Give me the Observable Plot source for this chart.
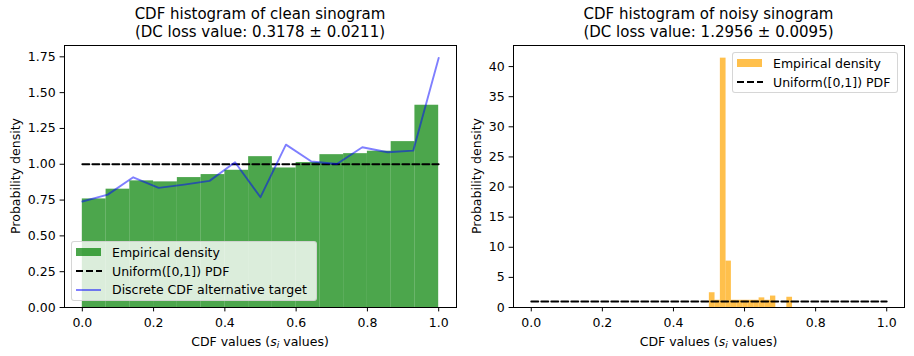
<!DOCTYPE html>
<html>
<head>
<meta charset="utf-8">
<script src="https://cdn.jsdelivr.net/npm/d3@7"></script>
<script src="https://cdn.jsdelivr.net/npm/@observablehq/plot@0.6"></script>
<style>
  html, body { margin: 0; padding: 0; background: #fff; }
  #fig { position: relative; width: 914px; height: 356px; font-family: "DejaVu Sans", sans-serif; color: #000; overflow: hidden; }
  .txt { position: absolute; white-space: nowrap; }
  .title { font-size: 15px; line-height: 18px; text-align: center; }
  .xlab { font-size: 12.5px; line-height: 15px; text-align: center; }
  .ylab { font-size: 12.5px; line-height: 15px; transform: translate(-50%, -50%) rotate(-90deg); }
  .legend { position: absolute; background: rgba(255,255,255,0.8); border: 1px solid rgba(204,204,204,0.8); border-radius: 3px; box-sizing: border-box; }
  .ltext { position: absolute; font-size: 12.5px; line-height: 15px; white-space: nowrap; }
  .h { position: absolute; }
</style>
</head>
<body>
<div id="fig"></div>
<script>
// ---- data ----
const xTicks = [0, 0.2, 0.4, 0.6, 0.8, 1.0];
const cleanYTicks = [0, 0.25, 0.5, 0.75, 1.0, 1.25, 1.5, 1.75];
const noisyYTicks = [0, 5, 10, 15, 20, 25, 30, 35, 40];

const cleanEdges = [0, 0.0667, 0.1333, 0.2, 0.2667, 0.3333, 0.4, 0.4667, 0.5333, 0.6, 0.6667, 0.7333, 0.8, 0.8667, 0.9333, 1.0];
const cleanDensity = [0.758, 0.826, 0.884, 0.877, 0.907, 0.928, 0.958, 1.053, 0.974, 1.012, 1.067, 1.074, 1.091, 1.158, 1.412];

const altX = [0, 0.0714, 0.1429, 0.2143, 0.2857, 0.3571, 0.4286, 0.5, 0.5714, 0.6429, 0.7143, 0.7857, 0.8571, 0.9286, 1.0];
const altY = [0.740, 0.788, 0.909, 0.835, 0.858, 0.884, 1.014, 0.770, 1.137, 1.019, 1.002, 1.119, 1.084, 1.095, 1.742];

const noisyEdges = [0.501, 0.517, 0.532, 0.548, 0.563, 0.579, 0.595, 0.610, 0.626, 0.641, 0.657, 0.673, 0.688, 0.704, 0.719, 0.735];
const noisyDensity = [2.45, 1.2, 41.4, 7.7, 1.2, 1.2, 1.2, 1.2, 1.2, 1.6, 1.2, 1.9, 0, 0, 1.7];

const uniformX = [0, 1];
const uniformY = [1, 1];

const titles = [
  ["CDF histogram of clean sinogram", "(DC loss value: 0.3178 \u00b1 0.0211)"],
  ["CDF histogram of noisy sinogram", "(DC loss value: 1.2956 \u00b1 0.0095)"]
];
const yLabel = "Probability density";
const legendLabels = ["Empirical density", "Uniform([0,1]) PDF", "Discrete CDF alternative target"];

// ---- build ----
const bins = (edges, dens) => dens.map((v, i) => ({x1: edges[i], x2: edges[i + 1], y: v}));
const pts = (xs, ys) => xs.map((x, i) => ({x, y: ys[i]}));

const baseStyle = (left, w) => ({
  position: "absolute", left: left + "px", top: "0px",
  fontFamily: "DejaVu Sans", fontSize: "12.5px", color: "black",
  background: "none", overflow: "visible"
});

const leftPlot = Plot.plot({
  width: 460, height: 356,
  marginLeft: 64, marginRight: 4, marginTop: 45, marginBottom: 49,
  style: baseStyle(0),
  x: {domain: [-0.05, 1.05], ticks: xTicks, tickFormat: d3.format(".1f"), tickSize: 4.4, tickPadding: 6, label: null},
  y: {domain: [0, 1.829], ticks: cleanYTicks, tickFormat: d3.format(".2f"), tickSize: 4.4, tickPadding: 4.4, label: null},
  marks: [
    Plot.rectY(bins(cleanEdges, cleanDensity), {x1: "x1", x2: "x2", y: "y", fill: "green", fillOpacity: 0.7}),
    Plot.line(pts(uniformX, uniformY), {x: "x", y: "y", stroke: "black", strokeWidth: 1.9, strokeDasharray: "7,3"}),
    Plot.line(pts(altX, altY), {x: "x", y: "y", stroke: "blue", strokeOpacity: 0.5, strokeWidth: 1.9}),
    Plot.frame({stroke: "black", strokeWidth: 1})
  ]
});

const rightPlot = Plot.plot({
  width: 457, height: 356,
  marginLeft: 56, marginRight: 10, marginTop: 45, marginBottom: 49,
  style: baseStyle(457),
  x: {domain: [-0.05, 1.05], ticks: xTicks, tickFormat: d3.format(".1f"), tickSize: 4.4, tickPadding: 6, label: null},
  y: {domain: [0, 43.5], ticks: noisyYTicks, tickFormat: d3.format("d"), tickSize: 4.4, tickPadding: 4.4, label: null},
  marks: [
    Plot.rectY(bins(noisyEdges, noisyDensity), {x1: "x1", x2: "x2", y: "y", fill: "orange", fillOpacity: 0.7}),
    Plot.line(pts(uniformX, uniformY), {x: "x", y: "y", stroke: "black", strokeWidth: 1.9, strokeDasharray: "7,3"}),
    Plot.frame({stroke: "black", strokeWidth: 1})
  ]
});

const fig = document.getElementById("fig");
fig.appendChild(leftPlot);
fig.appendChild(rightPlot);

function addDiv(cls, style, html) {
  const d = document.createElement("div");
  d.className = cls;
  Object.assign(d.style, style);
  d.innerHTML = html;
  fig.appendChild(d);
  return d;
}

// titles
const centers = [260, 708.5];
titles.forEach((t, i) => {
  addDiv("txt title", {left: (centers[i] - 200) + "px", width: "400px", top: "5px"}, t[0] + "<br>" + t[1]);
  addDiv("txt xlab", {left: (centers[i] - 200) + "px", width: "400px", top: "334px"},
    "CDF values (<i>s<sub style=\"font-size:9px;vertical-align:-2px\">i</sub></i> values)");
});
// y labels
addDiv("txt ylab", {left: "15px", top: "176px"}, yLabel);
addDiv("txt ylab", {left: "476px", top: "176px"}, yLabel);

// left legend
addDiv("legend", {left: "71px", top: "241px", width: "246px", height: "60px"}, "");
addDiv("h", {left: "76px", top: "248px", width: "25px", height: "8px", background: "rgba(0,128,0,0.7)"}, "");
addDiv("h", {left: "76px", top: "270px", width: "26px", height: "2px",
  background: "repeating-linear-gradient(to right, #000 0 7px, transparent 7px 10px)"}, "");
addDiv("h", {left: "76px", top: "288.5px", width: "25px", height: "2px", background: "rgba(0,0,255,0.5)"}, "");
addDiv("ltext", {left: "112px", top: (251.7 - 7.2) + "px"}, legendLabels[0]);
addDiv("ltext", {left: "112px", top: (270.7 - 7.2) + "px"}, legendLabels[1]);
addDiv("ltext", {left: "112px", top: (289.3 - 7.2) + "px"}, legendLabels[2]);

// right legend
addDiv("legend", {left: "732px", top: "52px", width: "166px", height: "41px"}, "");
addDiv("h", {left: "737px", top: "59px", width: "25px", height: "8px", background: "rgba(255,165,0,0.7)"}, "");
addDiv("h", {left: "737px", top: "81px", width: "26px", height: "2px",
  background: "repeating-linear-gradient(to right, #000 0 7px, transparent 7px 10px)"}, "");
addDiv("ltext", {left: "773px", top: (62.7 - 7.2) + "px"}, legendLabels[0]);
addDiv("ltext", {left: "773px", top: (81.7 - 7.2) + "px"}, legendLabels[1]);
</script>
</body>
</html>
